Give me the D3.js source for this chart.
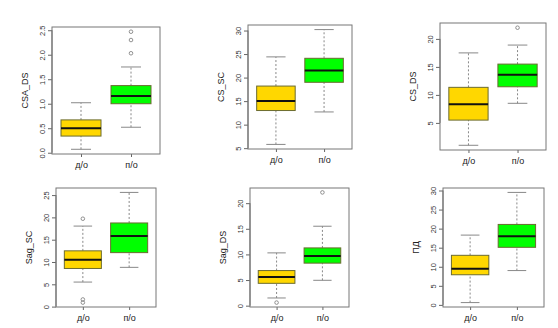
<!DOCTYPE html>
<html><head><meta charset="utf-8">
<script src="https://cdn.jsdelivr.net/npm/d3@7"></script>
<style>body{margin:0;background:#fff}svg{display:block}text{font-family:"Liberation Sans",Arial,sans-serif}</style>
</head><body>
<svg id="c" width="558" height="328"></svg>
<script>
const panelNames = ["CSA_DS","CS_SC","CS_DS","Sag_SC","Sag_DS","ПД"];
const groups = ["д/о","п/о"];
const whiskerLow  = [[0.07,0.52],[5.8,12.7],[1.0,8.5],[5.5,8.8],[1.5,4.95],[0.6,9.0]];
const q1          = [[0.34,1.0],[13.0,19.0],[5.5,11.45],[8.55,12.1],[4.36,8.3],[7.9,15.1]];
const medians     = [[0.5,1.16],[15.0,21.5],[8.35,13.6],[10.5,15.85],[5.6,9.7],[9.45,18.0]];
const q3          = [[0.67,1.37],[18.2,24.1],[11.35,15.5],[12.5,18.75],[6.85,11.27],[13.0,21.1]];
const whiskerHigh = [[1.02,1.75],[24.4,30.2],[17.5,18.9],[18.05,25.6],[10.3,15.5],[18.3,29.5]];
const outliers    = [[[],[2.03,2.3,2.47]],[[],[]],[[],[22.0]],[[0.9,1.6,19.7],[]],[[0.6],[22.1]],[[],[]]];
const yTicks      = [[0,0.5,1,1.5,2,2.5],[5,10,15,20,25,30],[5,10,15,20],[0,5,10,15,20,25],[0,5,10,15,20],[0,5,10,15,20,25,30]];
const tickFormats = [".1f","d","d","d","d","d"];
const fills = ["#FFD700","#00FF00"];

// layout (plot regions)
const rects = [
  {l:52,r:160,t:27,b:154},{l:248,r:352,t:25,b:149},{l:440,r:546,t:23,b:150},
  {l:56,r:156,t:188,b:307},{l:250,r:349,t:188,b:307},{l:443,r:544,t:188,b:307}
];
const svg = d3.select("#c");
panelNames.forEach((name,i)=>{
  const R = rects[i];
  const all = [].concat(whiskerLow[i],whiskerHigh[i],outliers[i][0],outliers[i][1]);
  const [mn,mx] = d3.extent(all);
  const pad = (mx-mn)*0.04;
  const y = d3.scaleLinear().domain([mn-pad,mx+pad]).range([R.b,R.t]);
  const x = d3.scaleLinear().domain([0.42,2.58]).range([R.l,R.r]);
  const g = svg.append("g");
  // y axis
  const ya = g.append("g").attr("transform",`translate(${R.l},0)`)
    .call(d3.axisLeft(y).tickValues(yTicks[i]).tickSize(4).tickFormat(d3.format(tickFormats[i])));
  ya.select(".domain").attr("stroke","#666").attr("d",`M0,${y(yTicks[i][0])}V${y(yTicks[i][yTicks[i].length-1])}`);
  ya.selectAll(".tick line").attr("stroke","#666");
  ya.selectAll(".tick text").attr("x",null).attr("dy",null)
    .attr("text-anchor","middle").attr("font-size",7.5).attr("fill","#333")
    .attr("transform",`translate(-9,0) rotate(-90)`).attr("y",0)
    .attr("dominant-baseline","middle");
  // x axis
  const xa = g.append("g").attr("transform",`translate(0,${R.b})`)
    .call(d3.axisBottom(x).tickValues([1,2]).tickSize(3).tickFormat((d)=>groups[d-1]));
  xa.select(".domain").remove();
  xa.selectAll(".tick line").attr("stroke","#666");
  xa.selectAll(".tick text").attr("font-size",9).attr("fill","#222").attr("y",8);
  // frame
  g.append("rect").attr("x",R.l).attr("y",R.t).attr("width",R.r-R.l).attr("height",R.b-R.t)
    .attr("fill","none").attr("stroke","#777").attr("stroke-width",1);
  // y label
  g.append("text").attr("transform",`translate(${R.l-24},${(R.t+R.b)/2}) rotate(-90)`)
    .attr("text-anchor","middle").attr("font-size",9).attr("fill","#222").text(name);
  // boxes
  groups.forEach((gr,j)=>{
    const cx = x(j+1), hw = x(j+1.4)-x(j+1), cw = hw/2;
    g.append("line").attr("x1",cx).attr("x2",cx).attr("y1",y(whiskerLow[i][j])).attr("y2",y(q1[i][j]))
      .attr("stroke","#888").attr("stroke-dasharray","2,2");
    g.append("line").attr("x1",cx).attr("x2",cx).attr("y1",y(q3[i][j])).attr("y2",y(whiskerHigh[i][j]))
      .attr("stroke","#888").attr("stroke-dasharray","2,2");
    [whiskerLow[i][j],whiskerHigh[i][j]].forEach(v=>{
      g.append("line").attr("x1",cx-cw).attr("x2",cx+cw).attr("y1",y(v)).attr("y2",y(v)).attr("stroke","#888");
    });
    g.append("rect").attr("x",cx-hw).attr("width",2*hw).attr("y",y(q3[i][j])).attr("height",y(q1[i][j])-y(q3[i][j]))
      .attr("fill",fills[j]).attr("stroke","#6b6b30").attr("stroke-width",1);
    g.append("line").attr("x1",cx-hw).attr("x2",cx+hw).attr("y1",y(medians[i][j])).attr("y2",y(medians[i][j]))
      .attr("stroke","#111").attr("stroke-width",2);
    outliers[i][j].forEach(v=>{
      g.append("circle").attr("cx",cx).attr("cy",y(v)).attr("r",1.8).attr("fill","none").attr("stroke","#777").attr("stroke-width",0.8);
    });
  });
});
</script>
</body></html>
